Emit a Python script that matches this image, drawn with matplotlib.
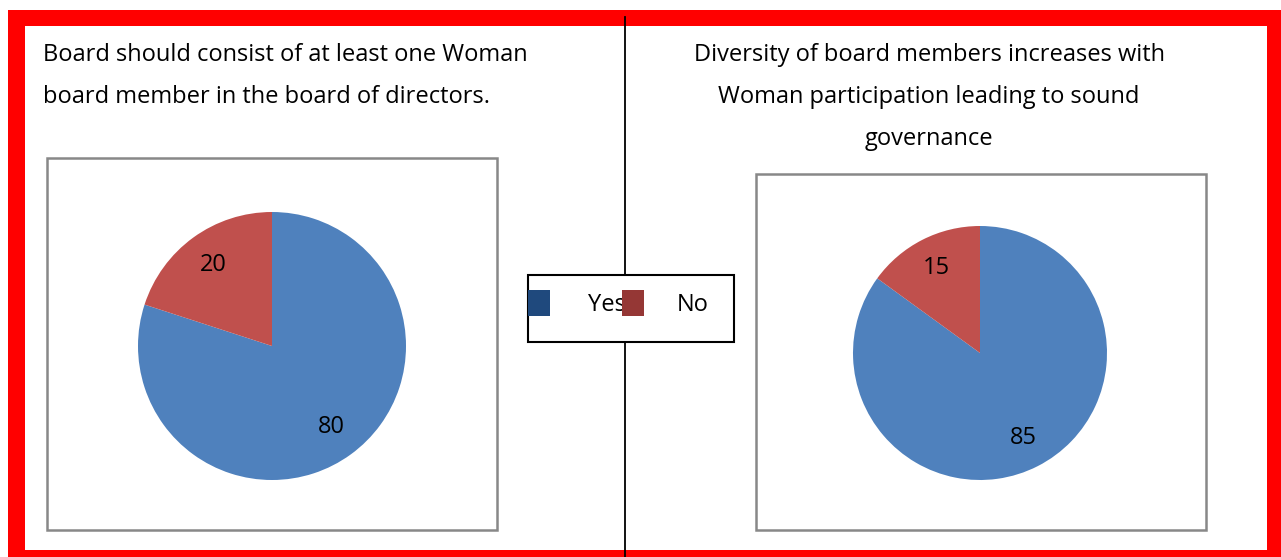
import matplotlib
matplotlib.use("Agg")
import matplotlib.pyplot as plt
from matplotlib.patches import Rectangle

plt.rcParams["font.family"] = ["Open Sans", "DejaVu Sans"]

categories = ["Yes", "No"]
left_values = [80, 20]
right_values = [85, 15]
left_title = ["Board should consist of at least one Woman",
              "board member in the board of directors."]
right_title = ["Diversity of board members increases with",
               "Woman participation leading to sound",
               "governance"]
pie_colors = ["#4F81BD", "#C0504D"]
legend_colors = ["#1F497D", "#953735"]

W, H = 1281, 557
fig = plt.figure(figsize=(W / 100, H / 100), dpi=100)

# overlay axes in pixel coordinates
bg = fig.add_axes([0, 0, 1, 1])
bg.set_xlim(0, W); bg.set_ylim(H, 0); bg.axis("off")

# red frame
red = "#FF0000"
bg.add_patch(Rectangle((8, 10), W - 8, 16, color=red, lw=0))
bg.add_patch(Rectangle((8, 10), 17, H - 10, color=red, lw=0))
bg.add_patch(Rectangle((1267, 10), 14, H - 10, color=red, lw=0))
bg.add_patch(Rectangle((8, 550), W - 8, 7, color=red, lw=0))

# divider line
bg.plot([625, 625], [17, H], color="black", lw=1.3, zorder=1)

# chart boxes
bg.add_patch(Rectangle((47, 158), 450, 372, fill=False, ec="#888888", lw=1.8))
bg.add_patch(Rectangle((756, 174), 450, 356, fill=False, ec="#888888", lw=1.8))

fs = 17
for i, line in enumerate(left_title):
    bg.text(43, 55 + 42 * i, line, fontsize=fs, ha="left", va="center")
for i, line in enumerate(right_title):
    bg.text(929, 55 + 42 * i, line, fontsize=fs, ha="center", va="center")

# legend (drawn over divider)
bg.add_patch(Rectangle((528, 275), 206, 67, fc="white", ec="black", lw=1.5, zorder=3))
bg.text(588, 305, categories[0], fontsize=fs, ha="left", va="center", zorder=4)
bg.add_patch(Rectangle((528, 290), 22, 26, color=legend_colors[0], lw=0, zorder=5))
bg.add_patch(Rectangle((622, 290), 22, 26, color=legend_colors[1], lw=0, zorder=5))
bg.text(677, 305, categories[1], fontsize=fs, ha="left", va="center", zorder=4)


def pie_axes(cx, cy, r):
    ax = fig.add_axes([(cx - r) / W, (H - cy - r) / H, 2 * r / W, 2 * r / H])
    return ax


for (cx, cy, r), vals in [((272, 346, 134), left_values), ((980, 353, 127), right_values)]:
    ax = pie_axes(cx, cy, r)
    ax.pie(vals, colors=pie_colors, startangle=90, counterclock=False,
           autopct=lambda p, v=vals: f"{round(p * sum(v) / 100):d}",
           pctdistance=0.75, textprops=dict(fontsize=fs, color="black"),
           wedgeprops=dict(linewidth=0))
    ax.set_xlim(-1, 1); ax.set_ylim(-1, 1)
    ax.set_aspect("equal")
    ax.axis("off")

fig.savefig("out.png", dpi=100)
